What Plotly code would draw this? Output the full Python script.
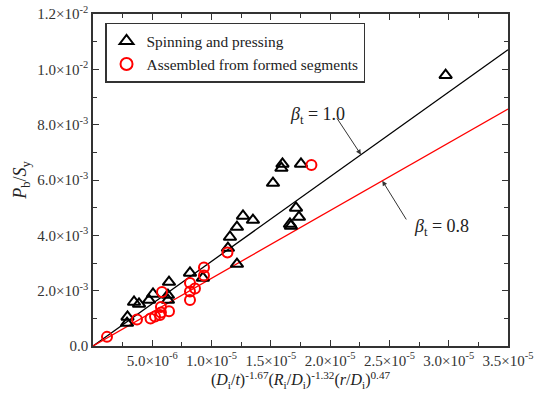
import plotly.graph_objects as go

# Measured data: spinning and pressing
spin_x = [2.91e-6, 2.87e-6, 3.46e-6, 3.88e-6, 4.72e-6, 5.06e-6, 6.41e-6, 6.32e-6, 6.32e-6,
          8.18e-6, 9.27e-6, 11.38e-6, 11.55e-6, 12.14e-6, 12.65e-6, 13.49e-6, 12.14e-6,
          15.18e-6, 15.98e-6, 15.89e-6, 17.54e-6, 17.12e-6, 17.37e-6, 16.61e-6, 16.69e-6,
          29.74e-6]
spin_y = [1.05e-3, 0.83e-3, 1.59e-3, 1.52e-3, 1.66e-3, 1.88e-3, 2.31e-3, 1.84e-3, 1.66e-3,
          2.64e-3, 2.46e-3, 3.54e-3, 3.94e-3, 4.30e-3, 4.70e-3, 4.55e-3, 2.96e-3,
          5.89e-3, 6.58e-3, 6.43e-3, 6.58e-3, 4.99e-3, 4.66e-3, 4.41e-3, 4.34e-3,
          9.79e-3]

# Measured data: assembled from formed segments
seg_x = [1.18e-6, 3.71e-6, 4.85e-6, 5.23e-6, 5.82e-6, 5.73e-6, 5.73e-6, 5.65e-6, 6.41e-6,
         8.18e-6, 8.18e-6, 8.18e-6, 8.60e-6, 9.36e-6, 9.36e-6, 11.34e-6, 18.42e-6]
seg_y = [0.33e-3, 0.96e-3, 0.99e-3, 1.07e-3, 1.95e-3, 1.41e-3, 1.21e-3, 1.12e-3, 1.26e-3,
         2.28e-3, 1.97e-3, 1.66e-3, 2.08e-3, 2.84e-3, 2.55e-3, 3.38e-3, 6.54e-3]

# Design lines P_b/S_y = beta_t * C * x
coef = 306.0
betas = [1.0, 0.8]
line_colors = ["#000000", "#ff0000"]
x_end = 3.5e-5

x_ticks = [5e-6, 1e-5, 1.5e-5, 2e-5, 2.5e-5, 3e-5, 3.5e-5]
x_labels = ["5.0×10<sup>-6</sup>", "1.0×10<sup>-5</sup>", "1.5×10<sup>-5</sup>", "2.0×10<sup>-5</sup>",
            "2.5×10<sup>-5</sup>", "3.0×10<sup>-5</sup>", "3.5×10<sup>-5</sup>"]
y_ticks = [0, 2e-3, 4e-3, 6e-3, 8e-3, 1e-2, 1.2e-2]
y_labels = ["0.0", "2.0×10<sup>-3</sup>", "4.0×10<sup>-3</sup>", "6.0×10<sup>-3</sup>",
            "8.0×10<sup>-3</sup>", "1.0×10<sup>-2</sup>", "1.2×10<sup>-2</sup>"]

FONT = '"Liberation Serif", "Times New Roman", "DejaVu Serif", serif'
AX = "#333333"
TXT = "#222222"

fig = go.Figure()

for b, c in zip(betas, line_colors):
    fig.add_trace(go.Scatter(x=[0, x_end], y=[0, b * coef * x_end], mode="lines",
                             line=dict(color=c, width=1.3), showlegend=False,
                             hoverinfo="skip"))

fig.add_trace(go.Scatter(x=spin_x, y=spin_y, mode="markers", name="Spinning and pressing",
                         marker=dict(symbol="triangle-up-open", size=11, color="#000000",
                                     line=dict(width=2, color="#000000"))))
fig.add_trace(go.Scatter(x=seg_x, y=seg_y, mode="markers", name="Assembled from formed segments",
                         marker=dict(symbol="circle-open", size=10, color="#ff0000",
                                     line=dict(width=2, color="#ff0000"))))

axis_common = dict(showline=True, linewidth=1.5, linecolor=AX, mirror="allticks",
                   ticks="inside", ticklen=6, tickwidth=1.2, tickcolor=AX,
                   showgrid=False, zeroline=False, automargin=False,
                   tickfont=dict(family=FONT, size=15, color=AX))

fig.update_xaxes(range=[0, x_end], tickmode="array", tickvals=x_ticks, ticktext=x_labels,
                 minor=dict(tickmode="linear", tick0=0, dtick=2.5e-6, ticks="inside",
                            ticklen=4, tickwidth=1.2, tickcolor=AX, showgrid=False),
                 title=dict(text="(<i>D</i><sub>i</sub>/<i>t</i>)<sup>-1.67</sup>(<i>R</i><sub>i</sub>/<i>D</i><sub>i</sub>)<sup>-1.32</sup>(<i>r</i>/<i>D</i><sub>i</sub>)<sup>0.47</sup>",
                            font=dict(family=FONT, size=16, color=TXT), standoff=6),
                 **axis_common)
fig.update_yaxes(range=[0, 1.2e-2], tickmode="array", tickvals=y_ticks, ticktext=y_labels,
                 minor=dict(tickmode="linear", tick0=0, dtick=1e-3, ticks="inside",
                            ticklen=4, tickwidth=1.2, tickcolor=AX, showgrid=False),
                 title=dict(text="<i>P</i><sub>b</sub>/<i>S</i><sub>y</sub>",
                            font=dict(family=FONT, size=18, color=TXT), standoff=6),
                 **axis_common)

# Arrows pointing at the design lines
fig.add_annotation(x=22.6e-6, y=betas[0] * coef * 22.6e-6, ax=20.5e-6, ay=8.28e-3,
                   xref="x", yref="y", axref="x", ayref="y", text="", showarrow=True,
                   arrowhead=2, arrowsize=1, arrowwidth=1, arrowcolor="#333333")
fig.add_annotation(x=24.4e-6, y=betas[1] * coef * 24.4e-6, ax=26.5e-6, ay=4.52e-3,
                   xref="x", yref="y", axref="x", ayref="y", text="", showarrow=True,
                   arrowhead=2, arrowsize=1, arrowwidth=1, arrowcolor="#333333")
fig.add_annotation(x=18.9e-6, y=8.32e-3, text="<i>β</i><sub>t</sub> = 1.0", showarrow=False,
                   font=dict(family=FONT, size=18, color=TXT))
fig.add_annotation(x=29.4e-6, y=4.30e-3, text="<i>β</i><sub>t</sub> = 0.8", showarrow=False,
                   font=dict(family=FONT, size=18, color=TXT))

fig.update_layout(
    width=534, height=403,
    margin=dict(l=93, r=26, t=14, b=57),
    paper_bgcolor="white", plot_bgcolor="white",
    font=dict(family=FONT, color=TXT),
    legend=dict(x=0.029, y=0.973, xanchor="left", yanchor="top",
                bordercolor=AX, borderwidth=1.5, bgcolor="white",
                font=dict(family=FONT, size=15.4, color=TXT),
                tracegroupgap=0, itemsizing="constant"),
)

fig.write_html("out.html")
